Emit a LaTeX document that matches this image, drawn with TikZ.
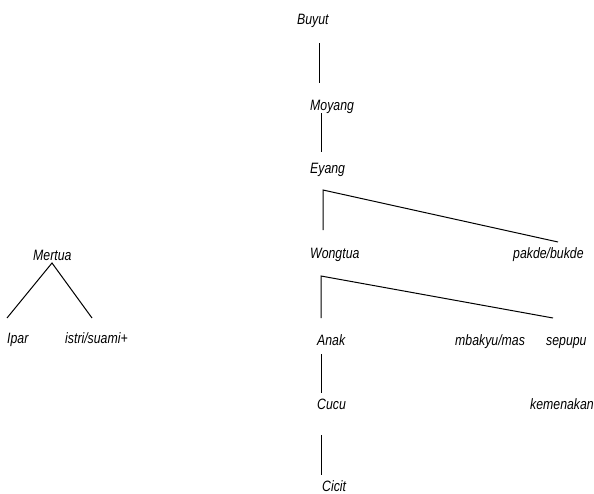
\documentclass[tikz,border=0pt]{standalone}
\usepackage{fontspec}
\setmainfont{Liberation Sans}[FakeStretch=0.82]
\begin{document}
\begin{tikzpicture}[x=1pt,y=-1pt,
  lbl/.style={anchor=base west,inner sep=0pt,font=\fontsize{15}{17}\selectfont\itshape},
  conn/.style={line width=1pt}]
\useasboundingbox (0,0) rectangle (594,493);
% labels
\node[lbl] (buyut) at (297,24) {Buyut};
\node[lbl] (moyang) at (310,110) {Moyang};
\node[lbl] (eyang) at (310,173) {Eyang};
\node[lbl] (wongtua) at (310,258) {Wongtua};
\node[lbl] (pakde) at (513,258) {pakde/bukde};
\node[lbl] (anak) at (317,345) {Anak};
\node[lbl] (mbakyu) at (455,345) {mbakyu/mas};
\node[lbl] (sepupu) at (546,345) {sepupu};
\node[lbl] (cucu) at (317,409) {Cucu};
\node[lbl] (kemenakan) at (530,409) {kemenakan};
\node[lbl] (cicit) at (322,491) {Cicit};
\node[lbl] (mertua) at (33,260) {Mertua};
\node[lbl] (ipar) at (7,343) {Ipar};
\node[lbl] (istri) at (65,343) {istri/suami+};
% connector ends
\coordinate (b1) at (319,43); \coordinate (b2) at (319,83);
\coordinate (m1) at (321,113); \coordinate (m2) at (321,152);
\coordinate (e1) at (323,230); \coordinate (e2) at (323,190); \coordinate (e3) at (558,242);
\coordinate (w1) at (321,318); \coordinate (w2) at (321,276); \coordinate (w3) at (553,318);
\coordinate (a1) at (321,354); \coordinate (a2) at (321,393);
\coordinate (c1) at (321,435); \coordinate (c2) at (321,475);
\coordinate (t0) at (52,263); \coordinate (t1) at (7,318); \coordinate (t2) at (92,318);
% connectors
\draw[conn] (b1) -- (b2);
\draw[conn] (m1) -- (m2);
\draw[conn] (e1) -- (e2) -- (e3);
\draw[conn] (w1) -- (w2) -- (w3);
\draw[conn] (a1) -- (a2);
\draw[conn] (c1) -- (c2);
\draw[conn] (t1) -- (t0) -- (t2);
\end{tikzpicture}
\end{document}
